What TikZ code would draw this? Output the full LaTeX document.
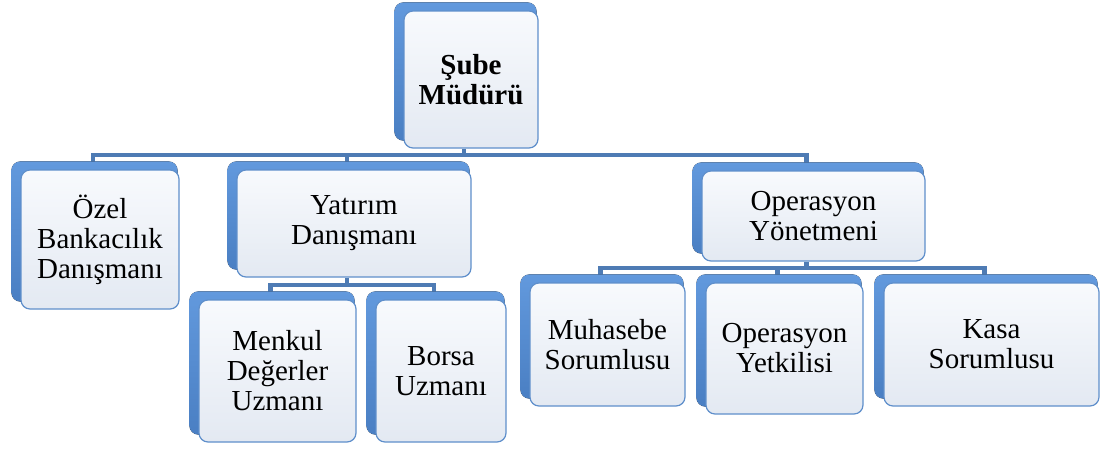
\documentclass[tikz,border=0pt]{standalone}
\usepackage{fontspec}
\setmainfont{Liberation Serif}
\usetikzlibrary{backgrounds}
\definecolor{frameA}{HTML}{6299DD}
\definecolor{frameB}{HTML}{4A7FC3}
\definecolor{boxtop}{HTML}{F8FAFD}
\definecolor{boxbot}{HTML}{E3E9F2}
\definecolor{boxline}{HTML}{5F8FCB}
\definecolor{connc}{HTML}{4E7BB4}
\begin{document}
\begin{tikzpicture}[x=1pt,y=-1pt,
  orgbox/.style={rectangle, rounded corners=9pt, draw=boxline, line width=1.2pt,
    top color=boxtop, bottom color=boxbot, inner sep=0pt, align=center,
    font=\fontsize{29}{30}\selectfont},
  framefill/.style={rounded corners=9pt, top color=frameA, bottom color=frameB},
  conn/.style={draw=connc, line width=4.5pt}]
\useasboundingbox (0,0) rectangle (1103,448);

\node[orgbox, minimum width=134pt, minimum height=137pt,
      font=\fontsize{29}{30}\selectfont\bfseries] (top) at (471,79.5) {Şube\\Müdürü};
\node[orgbox, minimum width=158pt, minimum height=139pt] (ozel) at (100,239.5) {Özel\\Bankacılık\\Danışmanı};
\node[orgbox, minimum width=234pt, minimum height=107pt] (yat) at (354,223.5) {Yatırım\\Danışmanı};
\node[orgbox, minimum width=223pt, minimum height=90pt] (op) at (813.5,216) {Operasyon\\Yönetmeni};
\node[orgbox, minimum width=157pt, minimum height=142pt] (menkul) at (277.5,371) {Menkul\\Değerler\\Uzmanı};
\node[orgbox, minimum width=130pt, minimum height=142pt] (borsa) at (441,371) {Borsa\\Uzmanı};
\node[orgbox, minimum width=155pt, minimum height=123pt] (muh) at (607.5,344.5) {Muhasebe\\Sorumlusu};
\node[orgbox, minimum width=157pt, minimum height=131pt] (opy) at (784.5,348.5) {Operasyon\\Yetkilisi};
\node[orgbox, minimum width=215pt, minimum height=123pt] (kasa) at (991.5,344.5) {Kasa\\Sorumlusu};

\begin{scope}[on background layer]
  \coordinate (busA) at (0,155);
  \coordinate (busB) at (0,285);
  \coordinate (busC) at (0,268);
  \foreach \n in {top,ozel,yat,op,menkul,borsa,muh,opy,kasa}{
    \coordinate (\n-s) at ([xshift=-7pt]\n.south);
    \coordinate (\n-n) at ([xshift=-7pt]\n.north);
  }
  \draw[conn] (top-s) -- (top-s |- busA) -| (ozel-n);
  \draw[conn] (top-s |- busA) -| (yat-n);
  \draw[conn] (top-s |- busA) -| (op-n);
  \draw[conn] (yat-s) -- (yat-s |- busB) -| (menkul-n);
  \draw[conn] (yat-s |- busB) -| (borsa-n);
  \draw[conn] (op-s) -- (op-s |- busC) -| (muh-n);
  \draw[conn] (op-s |- busC) -| (opy-n);
  \draw[conn] (op-s |- busC) -| (kasa-n);
  \foreach \n in {top,ozel,yat,op,menkul,borsa,muh,opy,kasa}{
    \fill[framefill] ([xshift=-9pt,yshift=8pt]\n.north west) rectangle ([xshift=-2pt,yshift=8pt]\n.south east);
  }
\end{scope}
\end{tikzpicture}
\end{document}
